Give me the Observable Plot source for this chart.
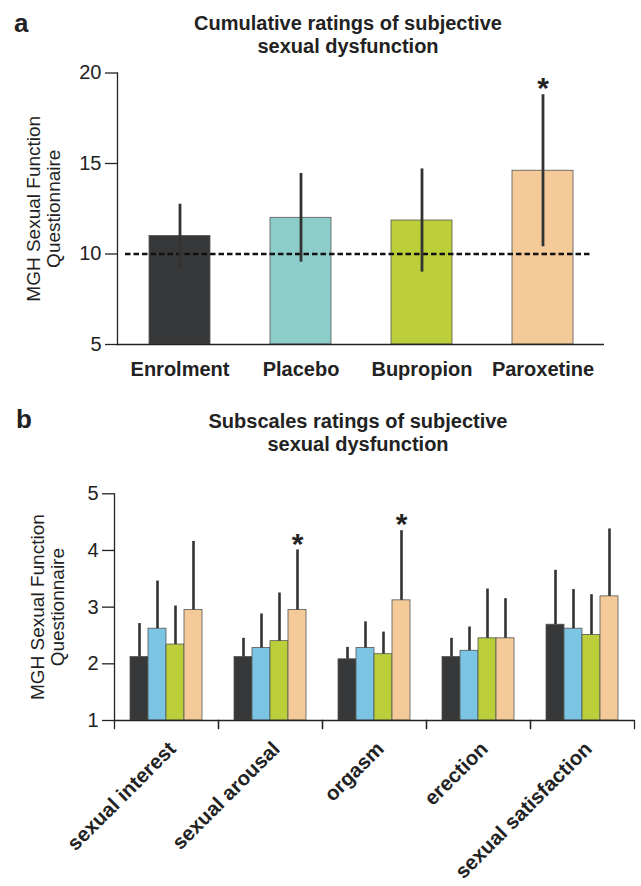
<!DOCTYPE html>
<html>
<head>
<meta charset="utf-8">
<script src="https://cdn.jsdelivr.net/npm/d3@7"></script>
<script src="https://cdn.jsdelivr.net/npm/@observablehq/plot@0.6"></script>
<style>
  body { margin: 0; background: #fff; }
  #root { position: relative; width: 641px; height: 886px; font-family: "Liberation Sans", Arial, Helvetica, sans-serif; color: #222; overflow: hidden; }
  .panel { position: absolute; font-weight: bold; font-size: 26px; line-height: 26px; }
  .title { position: absolute; font-weight: bold; font-size: 20px; line-height: 23px; text-align: center; width: 400px; }
  .chart { position: absolute; left: 0; }
</style>
</head>
<body>
<div id="root">
  <div class="panel" style="left:14px;top:10px">a</div>
  <div class="title" style="left:148px;top:12px">Cumulative ratings of subjective<br>sexual dysfunction</div>
  <div class="chart" id="chartA" style="top:56px"></div>
  <div class="panel" style="left:16px;top:406px">b</div>
  <div class="title" style="left:158px;top:410px">Subscales ratings of subjective<br>sexual dysfunction</div>
  <div class="chart" id="chartB" style="top:470px"></div>
</div>
<script>
// ---------- data: panel a ----------
const groups = ["Enrolment", "Placebo", "Bupropion", "Paroxetine"];
const cumulativeMean = [11.0, 12.0, 11.85, 14.6];
const cumulativeSD = [1.75, 2.45, 2.85, 4.2];
const cumulativeSig = [false, false, false, true];
const thresholdValue = 10;
const yTicksA = [5, 10, 15, 20];

// ---------- data: panel b ----------
const subscales = ["sexual interest", "sexual arousal", "orgasm", "erection", "sexual satisfaction"];
const enrolmentSub = [2.12, 2.12, 2.08, 2.12, 2.69];
const placeboSub = [2.62, 2.28, 2.28, 2.23, 2.62];
const bupropionSub = [2.34, 2.40, 2.17, 2.45, 2.51];
const paroxetineSub = [2.95, 2.95, 3.12, 2.45, 3.19];
const enrolmentErr = [0.59, 0.33, 0.21, 0.33, 0.96];
const placeboErr = [0.84, 0.60, 0.46, 0.42, 0.69];
const bupropionErr = [0.68, 0.85, 0.39, 0.87, 0.71];
const paroxetineErr = [1.21, 1.06, 1.23, 0.70, 1.19];
const paroxetineSig = [false, true, true, false, false];
const yTicksB = [1, 2, 3, 4, 5];

const yLabel = "MGH Sexual Function\nQuestionnaire";

// ---------- styles ----------
const colorsA = ["#37383a", "#8dcdc9", "#bccf3a", "#f3ca98"];
const colorsB = ["#37383a", "#7cc4e4", "#bccf3a", "#f3ca98"];
const font = '"Liberation Sans", Arial, Helvetica, sans-serif';
const ink = "#222";

// ---------- panel a ----------
const tableA = groups.map((g, i) => ({
  group: g,
  mean: cumulativeMean[i],
  lo: cumulativeMean[i] - cumulativeSD[i],
  hi: cumulativeMean[i] + cumulativeSD[i],
  sig: cumulativeSig[i]
}));

const W = 641;
const HA = 334, mA = {top: 16.5, bottom: 46, left: 117, right: 37};
const chartA = Plot.plot({
  width: W, height: HA,
  marginTop: mA.top, marginBottom: mA.bottom, marginLeft: mA.left, marginRight: mA.right,
  style: {fontFamily: font, color: ink, background: "transparent", overflow: "visible"},
  x: {domain: groups, paddingInner: 0.5, paddingOuter: 0.25, label: null, axis: null},
  y: {domain: [yTicksA[0], yTicksA[yTicksA.length - 1]], label: null, axis: null},
  color: {domain: groups, range: colorsA},
  marks: [
    Plot.barY(tableA, {x: "group", y1: yTicksA[0], y2: "mean", fill: "group", stroke: "#555", strokeWidth: 0.8}),
    Plot.ruleY([thresholdValue], {stroke: "#111", strokeWidth: 2.6, strokeDasharray: "5.5,3", insetLeft: 8, insetRight: 14}),
    Plot.ruleX(tableA, {x: "group", y1: "lo", y2: "hi", stroke: "#333", strokeWidth: 2.8}),
    Plot.text(tableA.filter(d => d.sig), {x: "group", y: "hi", text: () => "*", fontSize: 30, fontWeight: "bold", dy: -6, fill: ink}),
    Plot.ruleY([yTicksA[0]], {stroke: ink, strokeWidth: 1.3}),
    Plot.frame({anchor: "left", stroke: ink, strokeWidth: 1.3}),
    Plot.axisY({ticks: yTicksA, tickFormat: "d", tickSize: 12, tickPadding: 4, fontSize: 20, label: null, strokeWidth: 1.3, color: ink}),
    Plot.axisX({tickSize: 0, tickPadding: 17, fontSize: 20, fontWeight: "bold", label: null, color: ink}),
    Plot.text([yLabel], {frameAnchor: "left", rotate: -90, dx: -74, fontSize: 19, lineHeight: 1.05, lineAnchor: "middle", textAnchor: "middle", fill: ink})
  ]
});
document.getElementById("chartA").appendChild(chartA);

// ---------- panel b ----------
const seriesValues = [enrolmentSub, placeboSub, bupropionSub, paroxetineSub];
const seriesErr = [enrolmentErr, placeboErr, bupropionErr, paroxetineErr];
const tableB = [];
subscales.forEach((s, i) => {
  groups.forEach((g, j) => {
    tableB.push({
      scale: s, group: g,
      value: seriesValues[j][i],
      top: seriesValues[j][i] + seriesErr[j][i],
      sig: j === 3 && paroxetineSig[i]
    });
  });
});

const HB = 416, mB = {top: 23.3, bottom: 166, left: 113, right: 7};
const frameHB = HB - mB.top - mB.bottom;
const chartB = Plot.plot({
  width: W, height: HB,
  marginTop: mB.top, marginBottom: mB.bottom, marginLeft: mB.left, marginRight: mB.right,
  style: {fontFamily: font, color: ink, background: "transparent", overflow: "visible"},
  fx: {domain: subscales, padding: 0, axis: null, label: null},
  x: {domain: groups, paddingInner: 0, paddingOuter: 0.81, axis: null, label: null},
  y: {domain: [yTicksB[0], yTicksB[yTicksB.length - 1]], label: null, axis: null},
  color: {domain: groups, range: colorsB},
  marks: [
    Plot.barY(tableB, {fx: "scale", x: "group", y1: yTicksB[0], y2: "value", fill: "group", stroke: "#555", strokeWidth: 0.8}),
    Plot.ruleX(tableB, {fx: "scale", x: "group", y1: "value", y2: "top", stroke: "#333", strokeWidth: 2.6}),
    Plot.text(tableB.filter(d => d.sig), {fx: "scale", x: "group", y: "top", text: () => "*", fontSize: 30, fontWeight: "bold", dy: -6, fill: ink}),
    Plot.ruleY([yTicksB[0]], {stroke: ink, strokeWidth: 1.3}),
    Plot.frame({anchor: "left", insetTop: frameHB, insetBottom: -8, stroke: ink, strokeWidth: 1.3}),
    Plot.frame({anchor: "right", insetTop: frameHB, insetBottom: -8, stroke: ink, strokeWidth: 1.3}),
    Plot.frame({anchor: "left", fx: () => subscales[0], stroke: ink, strokeWidth: 1.3}),
    Plot.axisY({ticks: yTicksB, tickFormat: "d", tickSize: 12, tickPadding: 4, fontSize: 20, label: null, strokeWidth: 1.3, color: ink}),
    Plot.text(subscales, {fx: d => d, text: d => d, frameAnchor: "bottom", rotate: -45, textAnchor: "end", lineAnchor: "middle", dx: 6, dy: 25, fontSize: 20.5, fontWeight: "bold", fill: ink}),
    Plot.text([yLabel], {fx: () => subscales[0], frameAnchor: "left", rotate: -90, dx: -67, fontSize: 19, lineHeight: 1.05, lineAnchor: "middle", textAnchor: "middle", fill: ink})
  ]
});
document.getElementById("chartB").appendChild(chartB);
</script>
</body>
</html>
